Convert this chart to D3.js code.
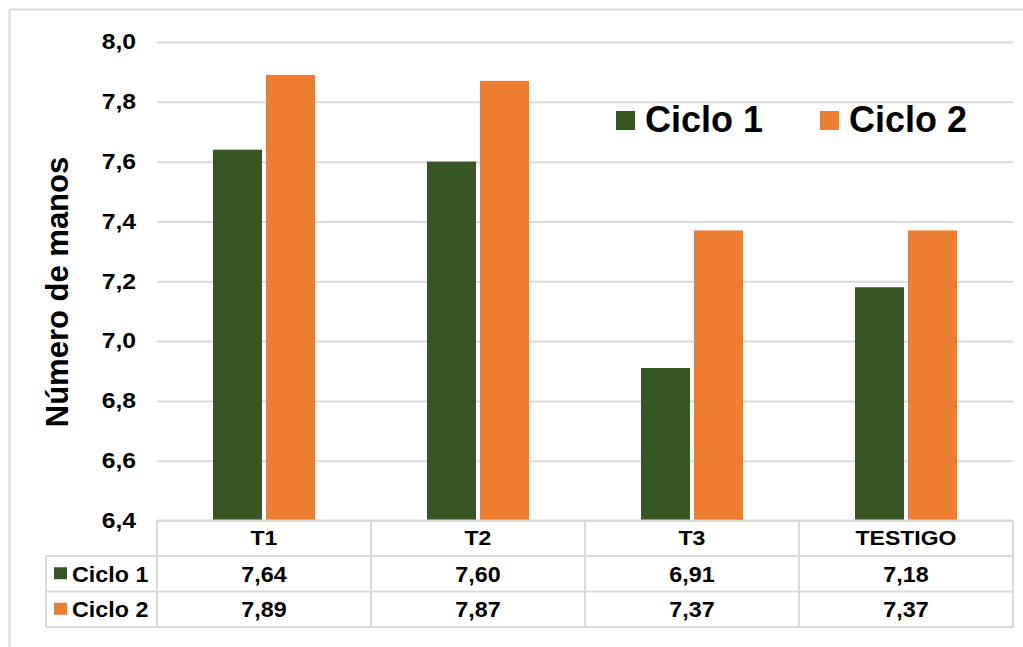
<!DOCTYPE html>
<html>
<head>
<meta charset="utf-8">
<script src="https://cdn.jsdelivr.net/npm/d3@7"></script>
<style>
  html, body { margin: 0; padding: 0; background: #fff; }
  svg { display: block; }
  text { font-family: "Liberation Sans", Arial, Helvetica, sans-serif; font-weight: bold; fill: #000; }
</style>
</head>
<body>
<svg id="chart" width="1023" height="647"></svg>
<script>
// Número de manos por tratamiento, dos ciclos
const categories = ["T1", "T2", "T3", "TESTIGO"];
const seriesNames = ["Ciclo 1", "Ciclo 2"];
const ciclo1 = [7.64, 7.60, 6.91, 7.18];
const ciclo2 = [7.89, 7.87, 7.37, 7.37];
const yTicks = [6.4, 6.6, 6.8, 7.0, 7.2, 7.4, 7.6, 7.8, 8.0];
const colors = ["#375623", "#ED7D31"];

const series = [ciclo1, ciclo2];

const es = d3.formatLocale({ decimal: ",", thousands: ".", grouping: [3], currency: ["", " €"] });
const fmt1 = es.format(".1f");
const fmt2 = es.format(".2f");

const svg = d3.select("#chart");
const W = 1023, H = 647;
const gridColor = "#d9d9d9";

// Layout
const plotLeft = 157, plotRight = 1013, plotTop = 42, plotBottom = 520.5;
const tableLeft = 46;
const rowH = 35.5;

// Outer frame (top and left edges are visible)
svg.append("line").attr("x1", 9.5).attr("x2", W).attr("y1", 9.5).attr("y2", 9.5)
  .attr("stroke", gridColor).attr("stroke-width", 2);
svg.append("line").attr("x1", 9.5).attr("x2", 9.5).attr("y1", 9.5).attr("y2", H)
  .attr("stroke", gridColor).attr("stroke-width", 2);

// Scales
const y = d3.scaleLinear().domain([6.4, 8.0]).range([plotBottom, plotTop]);
const x0 = d3.scaleBand().domain(categories).range([plotLeft, plotRight]).padding(0);
const x1 = d3.scaleBand().domain(seriesNames).range([0, x0.bandwidth()])
  .paddingInner(4 / 53).paddingOuter(56 / 53);

// Gridlines
svg.append("g")
  .attr("transform", `translate(${plotLeft},0)`)
  .call(d3.axisLeft(y).tickValues(yTicks).tickSize(-(plotRight - plotLeft)).tickFormat(""))
  .call(g => g.select(".domain").remove())
  .call(g => g.selectAll("line").attr("stroke", gridColor).attr("stroke-width", 2));

// Y tick labels
svg.append("g")
  .attr("transform", "translate(136,0)")
  .call(d3.axisLeft(y).tickValues(yTicks).tickSize(0).tickPadding(0).tickFormat(fmt1))
  .call(g => g.select(".domain").remove())
  .call(g => g.selectAll("text")
    .attr("x", 0)
    .attr("transform", "scale(1.15,1)")
    .style("font-size", "21.5px")
    .style("font-family", "'Liberation Sans', Arial, sans-serif")
    .style("font-weight", "bold")
    .attr("fill", "#000"));

// Y axis title
svg.append("text")
  .attr("transform", "translate(68,292) rotate(-90)")
  .attr("text-anchor", "middle")
  .style("font-size", "31px")
  .text("Número de manos");

// Bars
const groups = svg.append("g").selectAll("g")
  .data(categories)
  .join("g")
  .attr("transform", d => `translate(${x0(d)},0)`);

groups.selectAll("rect")
  .data((d, i) => seriesNames.map((s, j) => ({ s, v: series[j][i], j })))
  .join("rect")
  .attr("x", d => x1(d.s))
  .attr("width", x1.bandwidth())
  .attr("y", d => y(d.v))
  .attr("height", d => y(6.4) - y(d.v))
  .attr("fill", d => colors[d.j]);

// Data table
const tbl = svg.append("g");
const rowTops = [plotBottom, plotBottom + rowH, plotBottom + 2 * rowH];
const tableBottom = plotBottom + 3 * rowH;

// horizontal lines
tbl.append("line").attr("x1", plotLeft).attr("x2", plotRight).attr("y1", rowTops[0]).attr("y2", rowTops[0]);
[rowTops[1], rowTops[2], tableBottom].forEach(yy => {
  tbl.append("line").attr("x1", tableLeft).attr("x2", plotRight).attr("y1", yy).attr("y2", yy);
});
// vertical lines
tbl.append("line").attr("x1", tableLeft).attr("x2", tableLeft).attr("y1", rowTops[1]).attr("y2", tableBottom);
categories.forEach(c => {
  tbl.append("line").attr("x1", x0(c)).attr("x2", x0(c)).attr("y1", rowTops[0]).attr("y2", tableBottom);
});
tbl.append("line").attr("x1", plotRight).attr("x2", plotRight).attr("y1", rowTops[0]).attr("y2", tableBottom);
tbl.selectAll("line").attr("stroke", gridColor).attr("stroke-width", 2);

// header
tbl.selectAll("text.hdr")
  .data(categories)
  .join("text")
  .attr("class", "hdr")
  .attr("transform", d => `translate(${x0(d) + x0.bandwidth() / 2},${rowTops[0] + rowH / 2 + 7}) scale(1.15,1)`)
  .attr("text-anchor", "middle")
  .style("font-size", "20px")
  .text(d => d);

// series rows
seriesNames.forEach((s, j) => {
  const top = rowTops[j + 1];
  tbl.append("rect")
    .attr("x", 54).attr("y", top + rowH / 2 - 6.5)
    .attr("width", 13).attr("height", 12)
    .attr("fill", colors[j]);
  tbl.append("text")
    .attr("transform", `translate(72,${top + rowH / 2 + 8}) scale(1.06,1)`)
    .style("font-size", "22px")
    .text(s);
  tbl.selectAll(null)
    .data(series[j])
    .join("text")
    .attr("transform", (d, i) => `translate(${x0(categories[i]) + x0.bandwidth() / 2},${top + rowH / 2 + 8}) scale(1.06,1)`)
    .attr("text-anchor", "middle")
    .style("font-size", "22px")
    .text(d => fmt2(d));
});

// Legend
const legend = svg.append("g");
const legendX = [616, 820];
seriesNames.forEach((s, j) => {
  legend.append("rect")
    .attr("x", legendX[j]).attr("y", 111)
    .attr("width", 19).attr("height", 19)
    .attr("fill", colors[j]);
  legend.append("text")
    .attr("x", legendX[j] + 29).attr("y", 131.5)
    .style("font-size", "36px")
    .text(s);
});
</script>
</body>
</html>
